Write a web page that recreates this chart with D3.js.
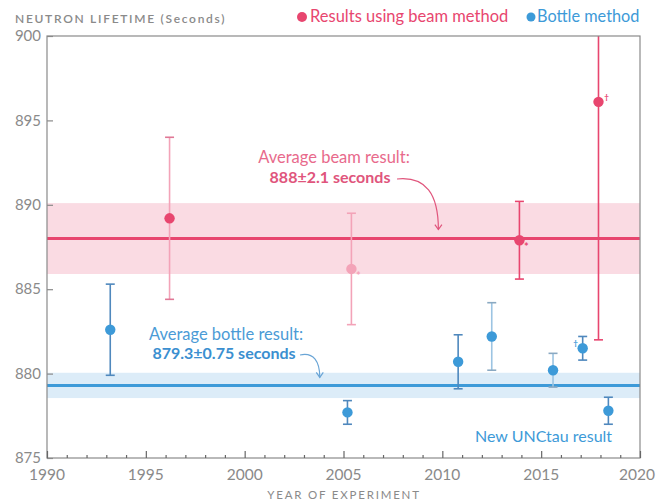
<!DOCTYPE html>
<html>
<head>
<meta charset="utf-8">
<script src="https://cdn.jsdelivr.net/npm/d3@7"></script>
<style>
  html, body { margin: 0; padding: 0; background: #fff; }
  svg { display: block; font-family: Lato, "Open Sans", sans-serif; }
</style>
</head>
<body>
<svg id="chart" width="656" height="501"></svg>
<script>
// Neutron lifetime measurements by year, split by experimental method
const beamYears   = [1996.2, 2005.4, 2013.9, 2017.9];
const beamValues  = [889.2, 886.2, 887.9, 896.1];
const beamErrors  = [4.8, 3.3, 2.3, 14.1];
const beamNotes   = ["", "*", "*", "†"];

const bottleYears  = [1993.2, 2005.2, 2010.8, 2012.5, 2015.6, 2017.1, 2018.4];
const bottleValues = [882.6, 877.7, 880.7, 882.2, 880.2, 881.5, 877.8];
const bottleErrors = [2.7, 0.7, 1.6, 2.0, 1.0, 0.7, 0.8];
const bottleNotes  = ["", "", "", "", "", "†", ""];

// Averages per method
const beamAvg = 888, beamAvgErr = 2.1;
const bottleAvg = 879.3, bottleAvgErr = 0.75;

const xTicks = [1990, 1995, 2000, 2005, 2010, 2015, 2020];
const yTicks = [875, 880, 885, 890, 895, 900];

const C = {
  red: "#e8466f", redLight: "#f3a3b8", redBand: "#fadbe3",
  blue: "#3d9ad8", blueDark: "#4f88bd", blueLight: "#9cc4e2", blueBand: "#dcecf8",
  grey: "#8a8a8a"
};

const W = 656;
const svg = d3.select("#chart");
const m = { left: 47, right: 640, top: 36, bottom: 458 };

const x = d3.scaleLinear().domain([1990, 2020]).range([m.left, m.right]);
const y = d3.scaleLinear().domain([875, 900]).range([m.bottom, m.top]);

svg.append("defs").append("clipPath").attr("id", "plot")
  .append("rect").attr("x", m.left).attr("y", m.top)
  .attr("width", m.right - m.left).attr("height", m.bottom - m.top);

const plot = svg.append("g").attr("clip-path", "url(#plot)");

// Average bands and lines
function band(avg, err, fill, stroke) {
  plot.append("rect")
    .attr("x", x(1990)).attr("width", x(2020) - x(1990))
    .attr("y", y(avg + err)).attr("height", y(avg - err) - y(avg + err))
    .attr("fill", fill);
  plot.append("line")
    .attr("x1", x(1990)).attr("x2", x(2020))
    .attr("y1", y(avg)).attr("y2", y(avg))
    .attr("stroke", stroke).attr("stroke-width", 3);
}
band(beamAvg, beamAvgErr, C.redBand, C.red);
band(bottleAvg, bottleAvgErr, C.blueBand, C.blue);

// Error bars with caps and dots
function points(years, values, errors, notes, styleFor, notePos) {
  years.forEach((yr, i) => {
    const s = styleFor(i);
    const cx = x(yr), cy = y(values[i]);
    const top = y(values[i] + errors[i]), bot = y(values[i] - errors[i]);
    const g = plot.append("g");
    g.append("line").attr("x1", cx).attr("x2", cx).attr("y1", top).attr("y2", bot)
      .attr("stroke", s.bar).attr("stroke-width", 1.6);
    [top, bot].forEach(v => g.append("line")
      .attr("x1", cx - 4.5).attr("x2", cx + 4.5).attr("y1", v).attr("y2", v)
      .attr("stroke", s.cap).attr("stroke-width", 1.6));
    g.append("circle").attr("cx", cx).attr("cy", cy).attr("r", 5.2).attr("fill", s.dot);
    if (notes[i]) {
      const p = notePos(notes[i]);
      g.append("text").attr("x", cx + p.dx).attr("y", cy + p.dy)
        .attr("font-size", notes[i] === "*" ? 11 : 8).attr("font-weight", 700)
        .attr("fill", s.dot).attr("text-anchor", "middle").text(notes[i]);
    }
  });
}

points(beamYears, beamValues, beamErrors, beamNotes,
  i => i === 1 ? { bar: C.redLight, cap: C.redLight, dot: C.redLight }
     : i === 0 ? { bar: C.redLight, cap: "#e07896", dot: C.red }
     : { bar: C.red, cap: C.red, dot: C.red },
  n => n === "*" ? { dx: 7, dy: 11 } : { dx: 8, dy: -2 });

points(bottleYears, bottleValues, bottleErrors, bottleNotes,
  i => (i === 3 || i === 4) ? { bar: C.blueLight, cap: "#8aa9c2", dot: C.blue }
     : { bar: C.blueDark, cap: C.blueDark, dot: C.blue },
  () => ({ dx: -7, dy: -2 }));

// Frame
const frame = svg.append("g").attr("stroke", C.grey).attr("stroke-width", 1.2).attr("fill", "none");
frame.append("rect").attr("x", m.left).attr("y", m.top)
  .attr("width", m.right - m.left).attr("height", m.bottom - m.top);

// Axes with inward ticks
const yAxis = svg.append("g").attr("transform", `translate(${m.left},0)`)
  .call(d3.axisRight(y).tickValues(yTicks).tickSize(6).tickFormat(""));
yAxis.select(".domain").remove();
yAxis.selectAll("line").attr("stroke", C.grey).attr("stroke-width", 1.2);
svg.append("g").selectAll("text").data(yTicks).join("text")
  .attr("x", m.left - 6).attr("y", d => y(d)).attr("dy", "0.35em")
  .attr("text-anchor", "end").attr("font-size", 15).attr("fill", C.grey)
  .text(d => d);

const minorYears = d3.range(1991, 2020).filter(v => v % 5 !== 0);
const xMinor = svg.append("g").attr("transform", `translate(0,${m.bottom})`)
  .call(d3.axisTop(x).tickValues(minorYears).tickSize(3).tickFormat(""));
xMinor.select(".domain").remove();
xMinor.selectAll("line").attr("stroke", "#666").attr("stroke-width", 1.2);
const xMajor = svg.append("g").attr("transform", `translate(0,${m.bottom})`)
  .call(d3.axisTop(x).tickValues(xTicks).tickSize(7).tickFormat(""));
xMajor.select(".domain").remove();
xMajor.selectAll("line").attr("stroke", "#666").attr("stroke-width", 1.2);
// Year labels; the last one is kept inside the page edge
svg.append("g").selectAll("text").data(xTicks).join("text")
  .attr("x", (d, i) => i === xTicks.length - 1 ? W - 1 : x(d)).attr("y", m.bottom + 22)
  .attr("text-anchor", (d, i) => i === xTicks.length - 1 ? "end" : "middle")
  .attr("font-size", 15.5).attr("fill", C.grey)
  .text(d => d);

// Titles and legend
svg.append("text").attr("x", 344).attr("y", 499).attr("text-anchor", "middle")
  .attr("font-size", 11.5).attr("letter-spacing", 1.8).attr("fill", C.grey)
  .text("YEAR OF EXPERIMENT");
svg.append("text").attr("x", 15).attr("y", 23)
  .attr("font-size", 12).attr("font-weight", 600).attr("letter-spacing", 1.7).attr("fill", C.grey)
  .text("NEUTRON LIFETIME (Seconds)");

svg.append("circle").attr("cx", 302).attr("cy", 17).attr("r", 5).attr("fill", C.red);
svg.append("text").attr("x", 310).attr("y", 22).attr("font-size", 16.5).attr("fill", C.red)
  .text("Results using beam method");
svg.append("circle").attr("cx", 531).attr("cy", 17).attr("r", 4.5).attr("fill", C.blue);
svg.append("text").attr("x", 537).attr("y", 22).attr("font-size", 16.3).attr("fill", C.blue)
  .text("Bottle method");

// Annotations for the averages
const beamLabel = svg.append("g").attr("text-anchor", "middle");
beamLabel.append("text").attr("x", 334).attr("y", 163).attr("font-size", 16.5)
  .attr("fill", "#e86a8c").text("Average beam result:");
beamLabel.append("text").attr("x", 330).attr("y", 183).attr("font-size", 16).attr("font-weight", 700)
  .attr("fill", "#e0557c").text(`${beamAvg}±${beamAvgErr} seconds`);

const bottleLabel = svg.append("g").attr("text-anchor", "middle");
bottleLabel.append("text").attr("x", 226).attr("y", 340).attr("font-size", 16.5)
  .attr("fill", "#4b9bd6").text("Average bottle result:");
bottleLabel.append("text").attr("x", 224).attr("y", 359).attr("font-size", 16).attr("font-weight", 700)
  .attr("fill", "#3b8fd0").text(`${bottleAvg}±${bottleAvgErr} seconds`);

function arrow(x0, y0, x1, y1, color) {
  const p = d3.path();
  p.moveTo(x0, y0);
  p.bezierCurveTo(x0 + (x1 - x0) * 0.7, y0 - 3, x1, y0 + (y1 - y0) * 0.3, x1, y1);
  svg.append("path").attr("d", p.toString()).attr("fill", "none")
    .attr("stroke", color).attr("stroke-width", 1.2);
  svg.append("path")
    .attr("d", `M${x1 - 3.5},${y1 - 5}L${x1},${y1}L${x1 + 3.5},${y1 - 5}`)
    .attr("fill", "none").attr("stroke", color).attr("stroke-width", 1.2);
}
arrow(397, 179, x(2009.8), y(beamAvg) - 9, "#e0557c");
arrow(300, 355, x(2003.8), y(bottleAvg) - 8, "#6aa5d6");

svg.append("text").attr("x", 475).attr("y", 442).attr("font-size", 16)
  .attr("fill", C.blue).text("New UNCtau result");
</script>
</body>
</html>
